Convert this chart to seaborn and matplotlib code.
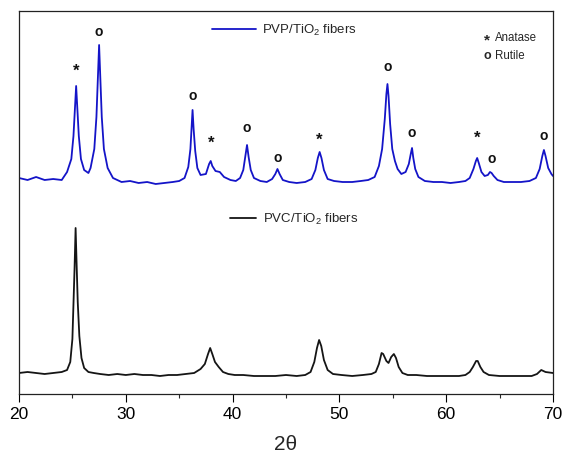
import matplotlib
matplotlib.use("Agg")
import matplotlib.pyplot as plt
from matplotlib.ticker import MultipleLocator
import seaborn as sns
import pandas as pd

# ---------------- data ----------------
pvp_x = [20.0, 20.8, 21.6, 22.4, 23.2, 24.0, 24.5, 24.9, 25.1, 25.25, 25.35, 25.45,
         25.6, 25.8, 26.1, 26.5, 26.7, 27.05, 27.25, 27.4, 27.5, 27.6, 27.75, 27.95,
         28.3, 28.8, 29.6, 30.4, 31.2, 32.0, 32.8, 33.6, 34.4, 35.0, 35.5, 35.85,
         36.05, 36.17, 36.25, 36.35, 36.5, 36.7, 37.0, 37.5, 37.8, 37.95, 38.1, 38.4,
         38.8, 39.2, 39.8, 40.3, 40.7, 41.0, 41.2, 41.35, 41.5, 41.7, 42.0, 42.6,
         43.2, 43.7, 44.0, 44.2, 44.4, 44.7, 45.3, 46.0, 46.8, 47.4, 47.75, 47.98,
         48.15, 48.32, 48.55, 48.9, 49.5, 50.3, 51.2, 52.0, 52.7, 53.3, 53.7, 54.0,
         54.25, 54.4, 54.5, 54.6, 54.75, 54.95, 55.2, 55.45, 55.8, 56.2, 56.5, 56.68,
         56.8, 56.92, 57.1, 57.4, 58.0, 58.8, 59.6, 60.4, 61.2, 61.8, 62.2, 62.55,
         62.78, 62.9, 63.05, 63.3, 63.6, 63.9, 64.1, 64.25, 64.45, 64.8, 65.4, 66.2,
         67.0, 67.8, 68.4, 68.75, 69.0, 69.15, 69.3, 69.55, 69.85, 70.0]
pvp_y = [216, 214, 217, 214, 215, 214, 222, 235, 258, 288, 308, 288,
         258, 235, 224, 221, 226, 245, 277, 320, 349, 320, 277, 245,
         226, 216, 212, 213, 211, 212, 210, 211, 212, 213, 216, 227,
         245, 268, 284, 265, 243, 226, 219, 220, 230, 233, 228, 223,
         222, 217, 214, 213, 216, 224, 238, 249, 237, 224, 216, 213,
         212, 215, 220, 225, 220, 214, 212, 211, 212, 215, 224, 236,
         242, 236, 224, 215, 213, 212, 212, 213, 214, 217, 228, 245,
         275, 300, 310, 298, 270, 245, 233, 225, 220, 222, 230, 240,
         246, 236, 225, 217, 213, 212, 212, 211, 212, 213, 216, 225,
         233, 236, 231, 222, 218, 219, 222, 221, 218, 214, 212, 212,
         212, 213, 216, 225, 238, 244, 238, 226, 220, 218]

pvc_x = [20.0, 20.8, 21.6, 22.4, 23.2, 24.0, 24.5, 24.8, 25.0, 25.1, 25.2, 25.3,
         25.4, 25.5, 25.65, 25.85, 26.1, 26.5, 27.0, 27.6, 28.4, 29.2, 30.0, 30.8,
         31.6, 32.4, 33.2, 34.0, 34.8, 35.6, 36.4, 37.0, 37.4, 37.7, 37.9, 38.1,
         38.35, 38.7, 39.1, 39.6, 40.2, 41.0, 42.0, 43.0, 44.0, 45.0, 46.0, 46.8,
         47.3, 47.65, 47.9, 48.1, 48.3, 48.55, 48.9, 49.4, 50.2, 51.2, 52.2, 53.0,
         53.4, 53.7, 53.95, 54.1, 54.4, 54.6, 54.85, 55.1, 55.3, 55.55, 55.9, 56.4,
         57.2, 58.2, 59.2, 60.2, 61.2, 61.8, 62.2, 62.5, 62.8, 62.95, 63.2, 63.5,
         64.0, 65.0, 66.0, 67.0, 68.0, 68.5, 68.9, 69.3, 70.0]
pvc_y = [21, 22, 21, 20, 21, 22, 24, 32, 55, 90, 125, 166,
         128, 92, 58, 36, 26, 22, 21, 20, 19, 20, 19, 20,
         19, 19, 18, 19, 19, 20, 21, 25, 30, 40, 46, 40,
         32, 27, 22, 20, 19, 19, 18, 18, 18, 19, 18, 19,
         22, 32, 46, 54, 48, 34, 24, 20, 19, 18, 19, 20,
         22, 30, 41, 40, 33, 31, 37, 40, 36, 27, 21, 19,
         19, 18, 18, 18, 18, 19, 22, 27, 33, 33, 27, 22,
         19, 18, 18, 18, 18, 20, 24, 22, 21]

# phase markers above the PVP/TiO2 peaks
anatase_x = [25.35, 37.95, 48.15, 62.9]
anatase_y = [323, 251, 254, 256]
rutile_x = [27.5, 36.25, 41.35, 44.2, 54.5, 56.8, 64.3, 69.15]
rutile_y = [362, 298, 266, 236, 327, 261, 235, 258]

x_ticks = [20, 30, 40, 50, 60, 70]
pvp_label = "PVP/TiO$_2$ fibers"
pvc_label = "PVC/TiO$_2$ fibers"
x_label = "2θ"

# ---------------- style ----------------
sns.set_style("ticks")
plt.rcParams["font.family"] = ["Liberation Sans", "DejaVu Sans"]
plt.rcParams["mathtext.fontset"] = "custom"
plt.rcParams["mathtext.rm"] = "Liberation Sans"
plt.rcParams["mathtext.it"] = "Liberation Sans:italic"
plt.rcParams["mathtext.bf"] = "Liberation Sans:bold"

fig = plt.figure(figsize=(5.63, 4.55), dpi=100)
ax = fig.add_axes([19 / 563, 61 / 455, 534 / 563, 383 / 455])

df_pvp = pd.DataFrame({"x": pvp_x, "y": pvp_y})
df_pvc = pd.DataFrame({"x": pvc_x, "y": pvc_y})

sns.lineplot(data=df_pvp, x="x", y="y", ax=ax, color="#1414c8", lw=1.3,
             estimator=None, sort=False, label=pvp_label)
sns.lineplot(data=df_pvc, x="x", y="y", ax=ax, color="#151515", lw=1.3,
             estimator=None, sort=False, label=pvc_label)

for xv, yv in zip(anatase_x, anatase_y):
    ax.text(xv, yv, "*", ha="center", va="center", fontsize=12,
            fontweight="bold", color="#111111")
for xv, yv in zip(rutile_x, rutile_y):
    ax.text(xv, yv, "o", ha="center", va="center", fontsize=10,
            fontweight="bold", color="#111111")

ax.set_xlim(20, 70)
ax.set_ylim(0, 383)
ax.set_xticks(x_ticks)
ax.xaxis.set_minor_locator(MultipleLocator(5))
ax.set_yticks([])
ax.tick_params(axis="x", which="major", direction="out", length=5.5, width=0.8,
               labelsize=12.5, colors="black", pad=4)
ax.tick_params(axis="x", which="minor", direction="out", length=3, width=0.8)
for s in ax.spines.values():
    s.set_visible(True)
    s.set_linewidth(0.9)
    s.set_color("#222222")
ax.set_xlabel(x_label, fontsize=15, labelpad=9)
ax.set_ylabel("")

# legends
handles, labels = ax.get_legend_handles_labels()
leg1 = ax.legend([handles[0]], [labels[0]], loc="center left",
                 bbox_to_anchor=((212 - 19) / 534, (394 - 30) / 383),
                 frameon=False, fontsize=9.5, handlelength=3.3,
                 handletextpad=0.5, borderpad=0, borderaxespad=0)
ax.add_artist(leg1)
ax.legend([handles[1]], [labels[1]], loc="center left",
          bbox_to_anchor=((230 - 19) / 534, (394 - 219) / 383),
          frameon=False, fontsize=9.5, handlelength=2.0,
          handletextpad=0.5, borderpad=0, borderaxespad=0)

ax.text((487 - 19) / 534, (394 - 40) / 383, "*", transform=ax.transAxes,
        ha="center", va="center", fontsize=11, fontweight="bold")
ax.text((495 - 19) / 534, (394 - 38) / 383, "Anatase", transform=ax.transAxes,
        ha="left", va="center", fontsize=8.3)
ax.text((487 - 19) / 534, (394 - 56) / 383, "o", transform=ax.transAxes,
        ha="center", va="center", fontsize=9, fontweight="bold")
ax.text((495 - 19) / 534, (394 - 56) / 383, "Rutile", transform=ax.transAxes,
        ha="left", va="center", fontsize=8.3)

fig.savefig("out.png", dpi=100)
